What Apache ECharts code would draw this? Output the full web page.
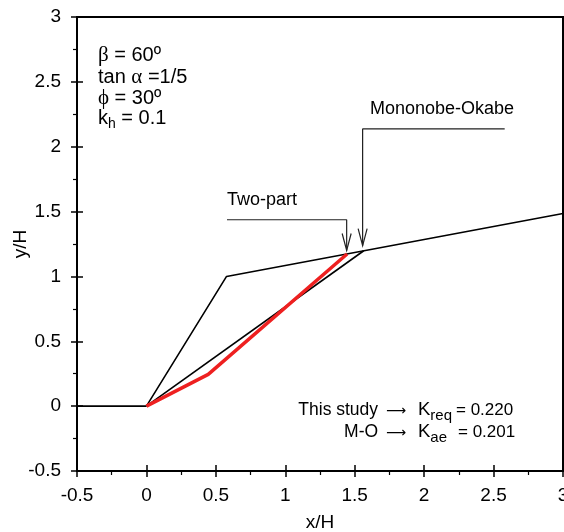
<!DOCTYPE html>
<html><head><meta charset="utf-8">
<script src="https://cdn.jsdelivr.net/npm/echarts@6/dist/echarts.min.js"></script>
<style>html,body{margin:0;padding:0;background:#fff}#c{width:564px;height:532px}</style>
</head><body><div id="c"></div>
<script>
// Wall geometry and failure surfaces (normalised by wall height H)
const groundX = [-0.5, 0];
const groundY = [0, 0];
const wallX = [0, 0.577, 3];
const wallY = [0, 1, 1.485];
const moX = [0, 1.565];
const moY = [0, 1.198];
const twoPartX = [0, 0.445, 1.445];
const twoPartY = [0, 0.245, 1.173];

// Leader lines pointing at the two failure-surface exits
const leaderTwoX = [0.58, 1.442, 1.442];
const leaderTwoY = [1.437, 1.437, 1.2];
const leaderMoX = [2.58, 1.557, 1.557];
const leaderMoY = [2.137, 2.137, 1.238];

const FONT = "'Liberation Sans', Arial, sans-serif";
const SERIF = "'Liberation Serif', 'DejaVu Serif', serif";
const ARROWFONT = "'DejaVu Sans', sans-serif";

const zip = (xs, ys) => xs.map((x, i) => [x, ys[i]]);

const chart = echarts.init(document.getElementById('c'), null, { renderer: 'canvas' });

function valueAxis(extra) {
  return Object.assign({
    type: 'value', min: -0.5, max: 3, interval: 0.5,
    splitLine: { show: false },
    axisLine: { show: true, onZero: false, lineStyle: { color: '#000', width: 2 } },
    axisTick: { show: true, length: 6, lineStyle: { color: '#000', width: 1.5 } },
    minorTick: { show: true, splitNumber: 2, length: 4, lineStyle: { color: '#000', width: 1.2 } },
    nameMoveOverlap: false,
    nameTextStyle: { fontSize: 19, color: '#000', fontFamily: FONT }
  }, extra);
}

// Second axis on each side only adds inward major ticks so they cross the axis line
function innerTickAxis(pos) {
  return {
    type: 'value', min: -0.5, max: 3, interval: 0.5, position: pos,
    axisLine: { show: false, onZero: false }, splitLine: { show: false },
    axisLabel: { show: false },
    axisTick: { show: true, inside: true, length: 6, lineStyle: { color: '#000', width: 1.5 } }
  };
}

function lineSeries(name, xs, ys, color, width) {
  return {
    name, type: 'line', data: zip(xs, ys), symbol: 'none', silent: true,
    lineStyle: { color, width }, animation: false, z: 3
  };
}

chart.setOption({
  animation: false,
  backgroundColor: '#fff',
  grid: { left: 77, top: 17, width: 486, height: 454, outerBoundsMode: 'none', containLabel: false,
    show: true, borderColor: '#000', borderWidth: 2, backgroundColor: 'transparent' },
  xAxis: [
    valueAxis({ position: 'bottom', name: 'x/H', nameLocation: 'middle', nameGap: 42,
      axisLabel: { fontSize: 19, color: '#000', fontFamily: FONT, margin: 15 } }),
    innerTickAxis('bottom')
  ],
  yAxis: [
    valueAxis({ position: 'left', name: 'y/H', nameLocation: 'middle', nameGap: 47, nameRotate: 90,
      axisLabel: { fontSize: 19, color: '#000', fontFamily: FONT, margin: 16 } }),
    innerTickAxis('left')
  ],
  series: [
    lineSeries('ground', groundX, groundY, '#000', 1.6),
    lineSeries('wall', wallX, wallY, '#000', 1.6),
    lineSeries('Mononobe-Okabe', moX, moY, '#000', 1.6),
    lineSeries('leaderTwo', leaderTwoX, leaderTwoY, '#222', 1.2),
    lineSeries('leaderMo', leaderMoX, leaderMoY, '#222', 1.2),
    Object.assign(lineSeries('Two-part', twoPartX, twoPartY, '#ee2020', 3.5), { z: 4 })
  ]
});

function px(x, y) { return chart.convertToPixel({ gridIndex: 0 }, [x, y]); }

function arrowHead(x, y) {
  const p = px(x, y);
  return { type: 'polyline', silent: true, z: 10,
    shape: { points: [[p[0] - 4.5, p[1] - 17], [p[0], p[1]], [p[0] + 4.5, p[1] - 17]] },
    style: { stroke: '#222', lineWidth: 1.2, fill: null } };
}

// Lays out a run of text pieces (regular, Greek, subscript) left to right
const measureCtx = document.createElement('canvas').getContext('2d');
function run(x, y, pieces, align) {
  const fam = p => p.fam || (p.serif ? SERIF : FONT);
  const fonts = pieces.map(p => (p.size || 19) + 'px ' + fam(p));
  const widths = pieces.map((p, i) => { measureCtx.font = fonts[i]; return measureCtx.measureText(p.t).width + (p.gap || 0); });
  const total = widths.reduce((a, b) => a + b, 0);
  let cx = align === 'right' ? x - total : x;
  return pieces.map((p, i) => {
    const el = { type: 'text', x: cx, y: y + (p.dy || 0), silent: true, z: 10,
      style: { text: p.t, fontSize: p.size || 19, fontFamily: fam(p), fill: '#000',
        textAlign: 'left', textVerticalAlign: 'middle' } };
    cx += widths[i];
    return el;
  });
}

const ARROW = { t: '⟶', fam: ARROWFONT, size: 14, dy: 1 };
const nTwo = leaderTwoX.length - 1, nMo = leaderMoX.length - 1;
chart.setOption({
  graphic: [].concat(
    [arrowHead(leaderTwoX[nTwo], leaderTwoY[nTwo]), arrowHead(leaderMoX[nMo], leaderMoY[nMo])],
    run(227, 200, [{ t: 'Two-part', size: 18 }]),
    run(370, 109, [{ t: 'Mononobe-Okabe', size: 18 }]),
    run(98, 55, [{ t: 'β', serif: true, size: 21 }, { t: ' = 60º', size: 20 }]),
    run(98, 77, [{ t: 'tan ', size: 20 }, { t: 'α', serif: true, size: 21 }, { t: ' =1/5', size: 20 }]),
    run(98, 98, [{ t: 'ϕ', serif: true, size: 21 }, { t: ' = 30º', size: 20 }]),
    run(98, 118, [{ t: 'k', size: 20 }, { t: 'h', size: 14, dy: 6 }, { t: ' = 0.1', size: 20 }]),
    run(406, 410, [{ t: 'This study ', size: 17.5, gap: 3 }, ARROW], 'right'),
    run(406, 432, [{ t: 'M-O ', size: 17.5, gap: 3 }, ARROW], 'right'),
    run(418, 410, [{ t: 'K', size: 18.5 }, { t: 'req', size: 15, dy: 6 }]),
    run(418, 432, [{ t: 'K', size: 18.5 }, { t: 'ae', size: 15, dy: 6 }]),
    run(456, 410, [{ t: '= 0.220', size: 17 }]),
    run(458, 432, [{ t: '= 0.201', size: 17 }])
  )
});
</script></body></html>
